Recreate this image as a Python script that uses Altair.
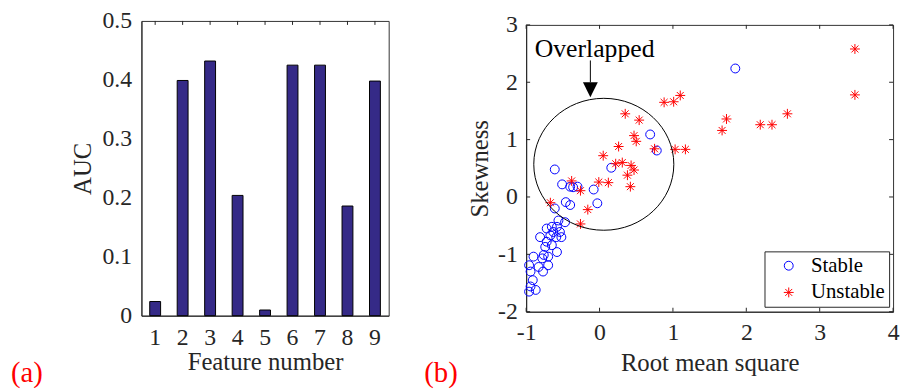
import altair as alt
import pandas as pd

# ---- panel (a): AUC per feature ----
features = [1, 2, 3, 4, 5, 6, 7, 8, 9]
auc = [0.024, 0.399, 0.432, 0.204, 0.0096, 0.425, 0.425, 0.186, 0.398]
auc_ticks = [0, 0.1, 0.2, 0.3, 0.4, 0.5]

# ---- panel (b): RMS vs skewness ----
stable_rms = [1.85, 0.69, 0.78, 0.16, -0.61, -0.51, -0.40, -0.36, -0.30, -0.08,
              -0.03, -0.46, -0.40, -0.61, -0.47, -0.56, -0.65, -0.58, -0.72, -0.63,
              -0.54, -0.67, -0.59, -0.81, -0.52, -0.72, -0.65, -0.74, -0.58, -0.76,
              -0.90, -0.78, -0.70, -0.96, -0.83, -0.70, -0.94, -0.77, -0.91, -0.94,
              -0.87, -0.96]
stable_skew = [2.24, 1.09, 0.81, 0.51, 0.48, 0.22, 0.18, 0.17, 0.18, 0.13,
               -0.11, -0.09, -0.14, -0.20, -0.44, -0.41, -0.52, -0.52, -0.55, -0.61,
               -0.61, -0.67, -0.70, -0.70, -0.70, -0.78, -0.84, -0.87, -0.96, -1.01,
               -1.04, -1.07, -1.04, -1.19, -1.22, -1.19, -1.30, -1.30, -1.45, -1.56,
               -1.62, -1.65]
unstable_rms = [3.48, 3.48, 2.56, 2.35, 2.19, 1.73, 1.67, 1.10, 1.01, 0.88,
                1.17, 1.03, 0.75, 0.35, 0.54, 0.47, 0.50, 0.26, 0.05, 0.31,
                0.22, 0.43, 0.47, 0.38, 0.42, -0.01, 0.12, -0.38, -0.26, -0.16,
                -0.26, -0.67]
unstable_skew = [2.58, 1.78, 1.45, 1.26, 1.26, 1.36, 1.16, 1.77, 1.66, 1.65,
                 0.83, 0.83, 0.84, 1.45, 1.34, 1.07, 0.97, 0.88, 0.72, 0.60,
                 0.58, 0.55, 0.47, 0.38, 0.18, 0.26, 0.25, 0.28, 0.11, -0.22,
                 -0.47, -0.10]
classes = ["Stable", "Unstable"]
rms_ticks = [-1, 0, 1, 2, 3, 4]
skew_ticks = [-2, -1, 0, 1, 2, 3]

# annotation: ellipse around the overlapping region and its label arrow
overlap_center = {"rms": [0.058], "skew": [0.57]}
arrow_shaft = {"rms": [-0.125], "skew": [2.38], "skew_end": [2.0]}
arrow_head = {"rms": [-0.125], "skew": [1.87]}
overlap_label = {"rms": [-0.067], "skew": [2.58], "label": ["Overlapped"]}

SERIF = "Liberation Serif"
INK = "#262626"
PARULA_1 = "#352A87"
W1, H1 = 250, 298
W2, H2 = 371, 290
TICK = 4

STAR = "M0,-1L0,1M-1,0L1,0M-0.7,-0.7L0.7,0.7M-0.7,0.7L0.7,-0.7"
RING = "M-0.9,0A0.9,0.9,0,1,0,0.9,0A0.9,0.9,0,1,0,-0.9,0Z"
# unit ellipse (rx = 1, ry = 0.942) from four cubic Bezier quarter arcs
ELLIPSE = ("M-1,0C-1,-0.5203,-0.5523,-0.942,0,-0.942"
           "C0.5523,-0.942,1,-0.5203,1,0"
           "C1,0.5203,0.5523,0.942,0,0.942"
           "C-0.5523,0.942,-1,0.5203,-1,0Z")
HEAD = "M-1,-1L1,-1L0,1Z"

# ---------------- panel (a) ----------------
bars_df = pd.DataFrame({"feature": features, "auc": auc})
# band scale: 9 slots across the panel, bars ~40% of a slot wide
feat_scale = alt.Scale(domain=features, paddingInner=0.604, paddingOuter=0.302)
x_feat = alt.X(
    "feature:O",
    scale=feat_scale,
    axis=alt.Axis(title="Feature number", labelPadding=10, labelAngle=0,
                  labelOverlap=False,
                  titleX=W1 / 2, titleY=46, titleBaseline="middle"),
)
y_auc = alt.Y(
    "auc:Q",
    scale=alt.Scale(domain=[0, 0.5], nice=False),
    axis=alt.Axis(values=auc_ticks, format="~g", title="AUC", labelPadding=10,
                  labelOverlap=False,
                  titleX=-59, titleY=H1 / 2, titleBaseline="middle"),
)
bars = alt.Chart(bars_df).mark_bar(
    color=PARULA_1, stroke="black", strokeWidth=1
).encode(x=x_feat, y=y_auc)

top_ticks_a = alt.Chart(pd.DataFrame({"feature": features})).mark_rule(
    color=INK, strokeWidth=1
).encode(x=x_feat, y=alt.value(0), y2=alt.value(TICK))

tag_a = alt.Chart(pd.DataFrame({"t": ["(a)"]})).mark_text(
    align="left", baseline="middle", font=SERIF, fontSize=29, color="#ff0000"
).encode(text="t:N", x=alt.value(-132), y=alt.value(356.5))

panel_a = alt.layer(bars, top_ticks_a, tag_a).properties(width=W1, height=H1)

# ---------------- panel (b) ----------------
scatter_df = pd.concat([
    pd.DataFrame({"rms": stable_rms, "skew": stable_skew, "cls": "Stable"}),
    pd.DataFrame({"rms": unstable_rms, "skew": unstable_skew, "cls": "Unstable"}),
], ignore_index=True)

x_rms = alt.X(
    "rms:Q",
    scale=alt.Scale(domain=[-1, 4], nice=False, zero=False),
    axis=alt.Axis(values=rms_ticks, labelExpr="'' + datum.value",
                  title="Root mean square", labelPadding=9, labelOverlap=False,
                  titleX=W2 / 2, titleY=51, titleBaseline="middle"),
)
y_skew = alt.Y(
    "skew:Q",
    scale=alt.Scale(domain=[-2, 3], nice=False, zero=False),
    axis=alt.Axis(values=skew_ticks, labelExpr="'' + datum.value",
                  title="Skewness", labelPadding=9, labelOverlap=False,
                  titleX=-47, titleY=H2 / 2, titleBaseline="middle"),
)
# the legend lives at the concat level, so its position is measured from panel (a)'s origin
legend = alt.Legend(
    title=None, orient="none", legendX=630, legendY=233, direction="vertical",
    strokeColor=INK, fillColor="white", padding=4, rowPadding=5,
    symbolSize=100, symbolStrokeWidth=1, symbolOffset=10, labelOffset=12,
    labelFont=SERIF, labelFontSize=21, labelColor="black",
)
points = alt.Chart(scatter_df).mark_point(
    filled=False, opacity=1, size=100, strokeWidth=1
).encode(
    x=x_rms,
    y=y_skew,
    color=alt.Color("cls:N", scale=alt.Scale(domain=classes, range=["#0000ff", "#ff0000"]),
                    legend=legend),
    shape=alt.Shape("cls:N", scale=alt.Scale(domain=classes, range=[RING, STAR]),
                    legend=legend),
)

def ticks_b():
    xt = pd.DataFrame({"rms": rms_ticks})
    yt = pd.DataFrame({"skew": skew_ticks})
    rule = dict(color=INK, strokeWidth=1)
    return [
        alt.Chart(xt).mark_rule(**rule).encode(x=x_rms, y=alt.value(H2), y2=alt.value(H2 - TICK)),
        alt.Chart(xt).mark_rule(**rule).encode(x=x_rms, y=alt.value(0), y2=alt.value(TICK)),
        alt.Chart(yt).mark_rule(**rule).encode(y=y_skew, x=alt.value(0), x2=alt.value(TICK)),
        alt.Chart(yt).mark_rule(**rule).encode(y=y_skew, x=alt.value(W2), x2=alt.value(W2 - TICK)),
    ]

ellipse = alt.Chart(pd.DataFrame(overlap_center)).mark_point(
    shape=ELLIPSE, size=20051, filled=False, stroke="black", strokeWidth=1, opacity=1
).encode(x=x_rms, y=y_skew)

shaft = alt.Chart(pd.DataFrame(arrow_shaft)).mark_rule(color="black", strokeWidth=1).encode(
    x=x_rms, y=y_skew, y2="skew_end:Q"
)
head = alt.Chart(pd.DataFrame(arrow_head)).mark_point(
    shape=HEAD, size=225, filled=True, color="black", opacity=1
).encode(x=x_rms, y=y_skew)
label = alt.Chart(pd.DataFrame(overlap_label)).mark_text(
    font=SERIF, fontSize=26, color="black", align="center", baseline="middle"
).encode(x=x_rms, y=y_skew, text="label:N")

tag_b = alt.Chart(pd.DataFrame({"t": ["(b)"]})).mark_text(
    align="left", baseline="middle", font=SERIF, fontSize=29, color="#ff0000"
).encode(text="t:N", x=alt.value(-103), y=alt.value(352))

panel_b = alt.layer(points, ellipse, shaft, head, label, *ticks_b(), tag_b).properties(
    width=W2, height=H2
)

chart = alt.hconcat(
    panel_a, panel_b, spacing=139, bounds="flush", center=True
).properties(
    padding={"left": 10, "top": 6, "right": 0, "bottom": 0}
).configure_view(
    stroke="#333333", strokeWidth=1
).configure_axis(
    grid=False, ticks=False, domainColor=INK, domainWidth=1,
    labelFont=SERIF, labelFontSize=24, labelColor=INK,
    labelFlush=False, labelOverlap=False,
    titleFont=SERIF, titleFontSize=25, titleFontWeight="normal", titleColor=INK,
)

chart.save("out.html", embed_options={"renderer": "svg", "actions": False})
